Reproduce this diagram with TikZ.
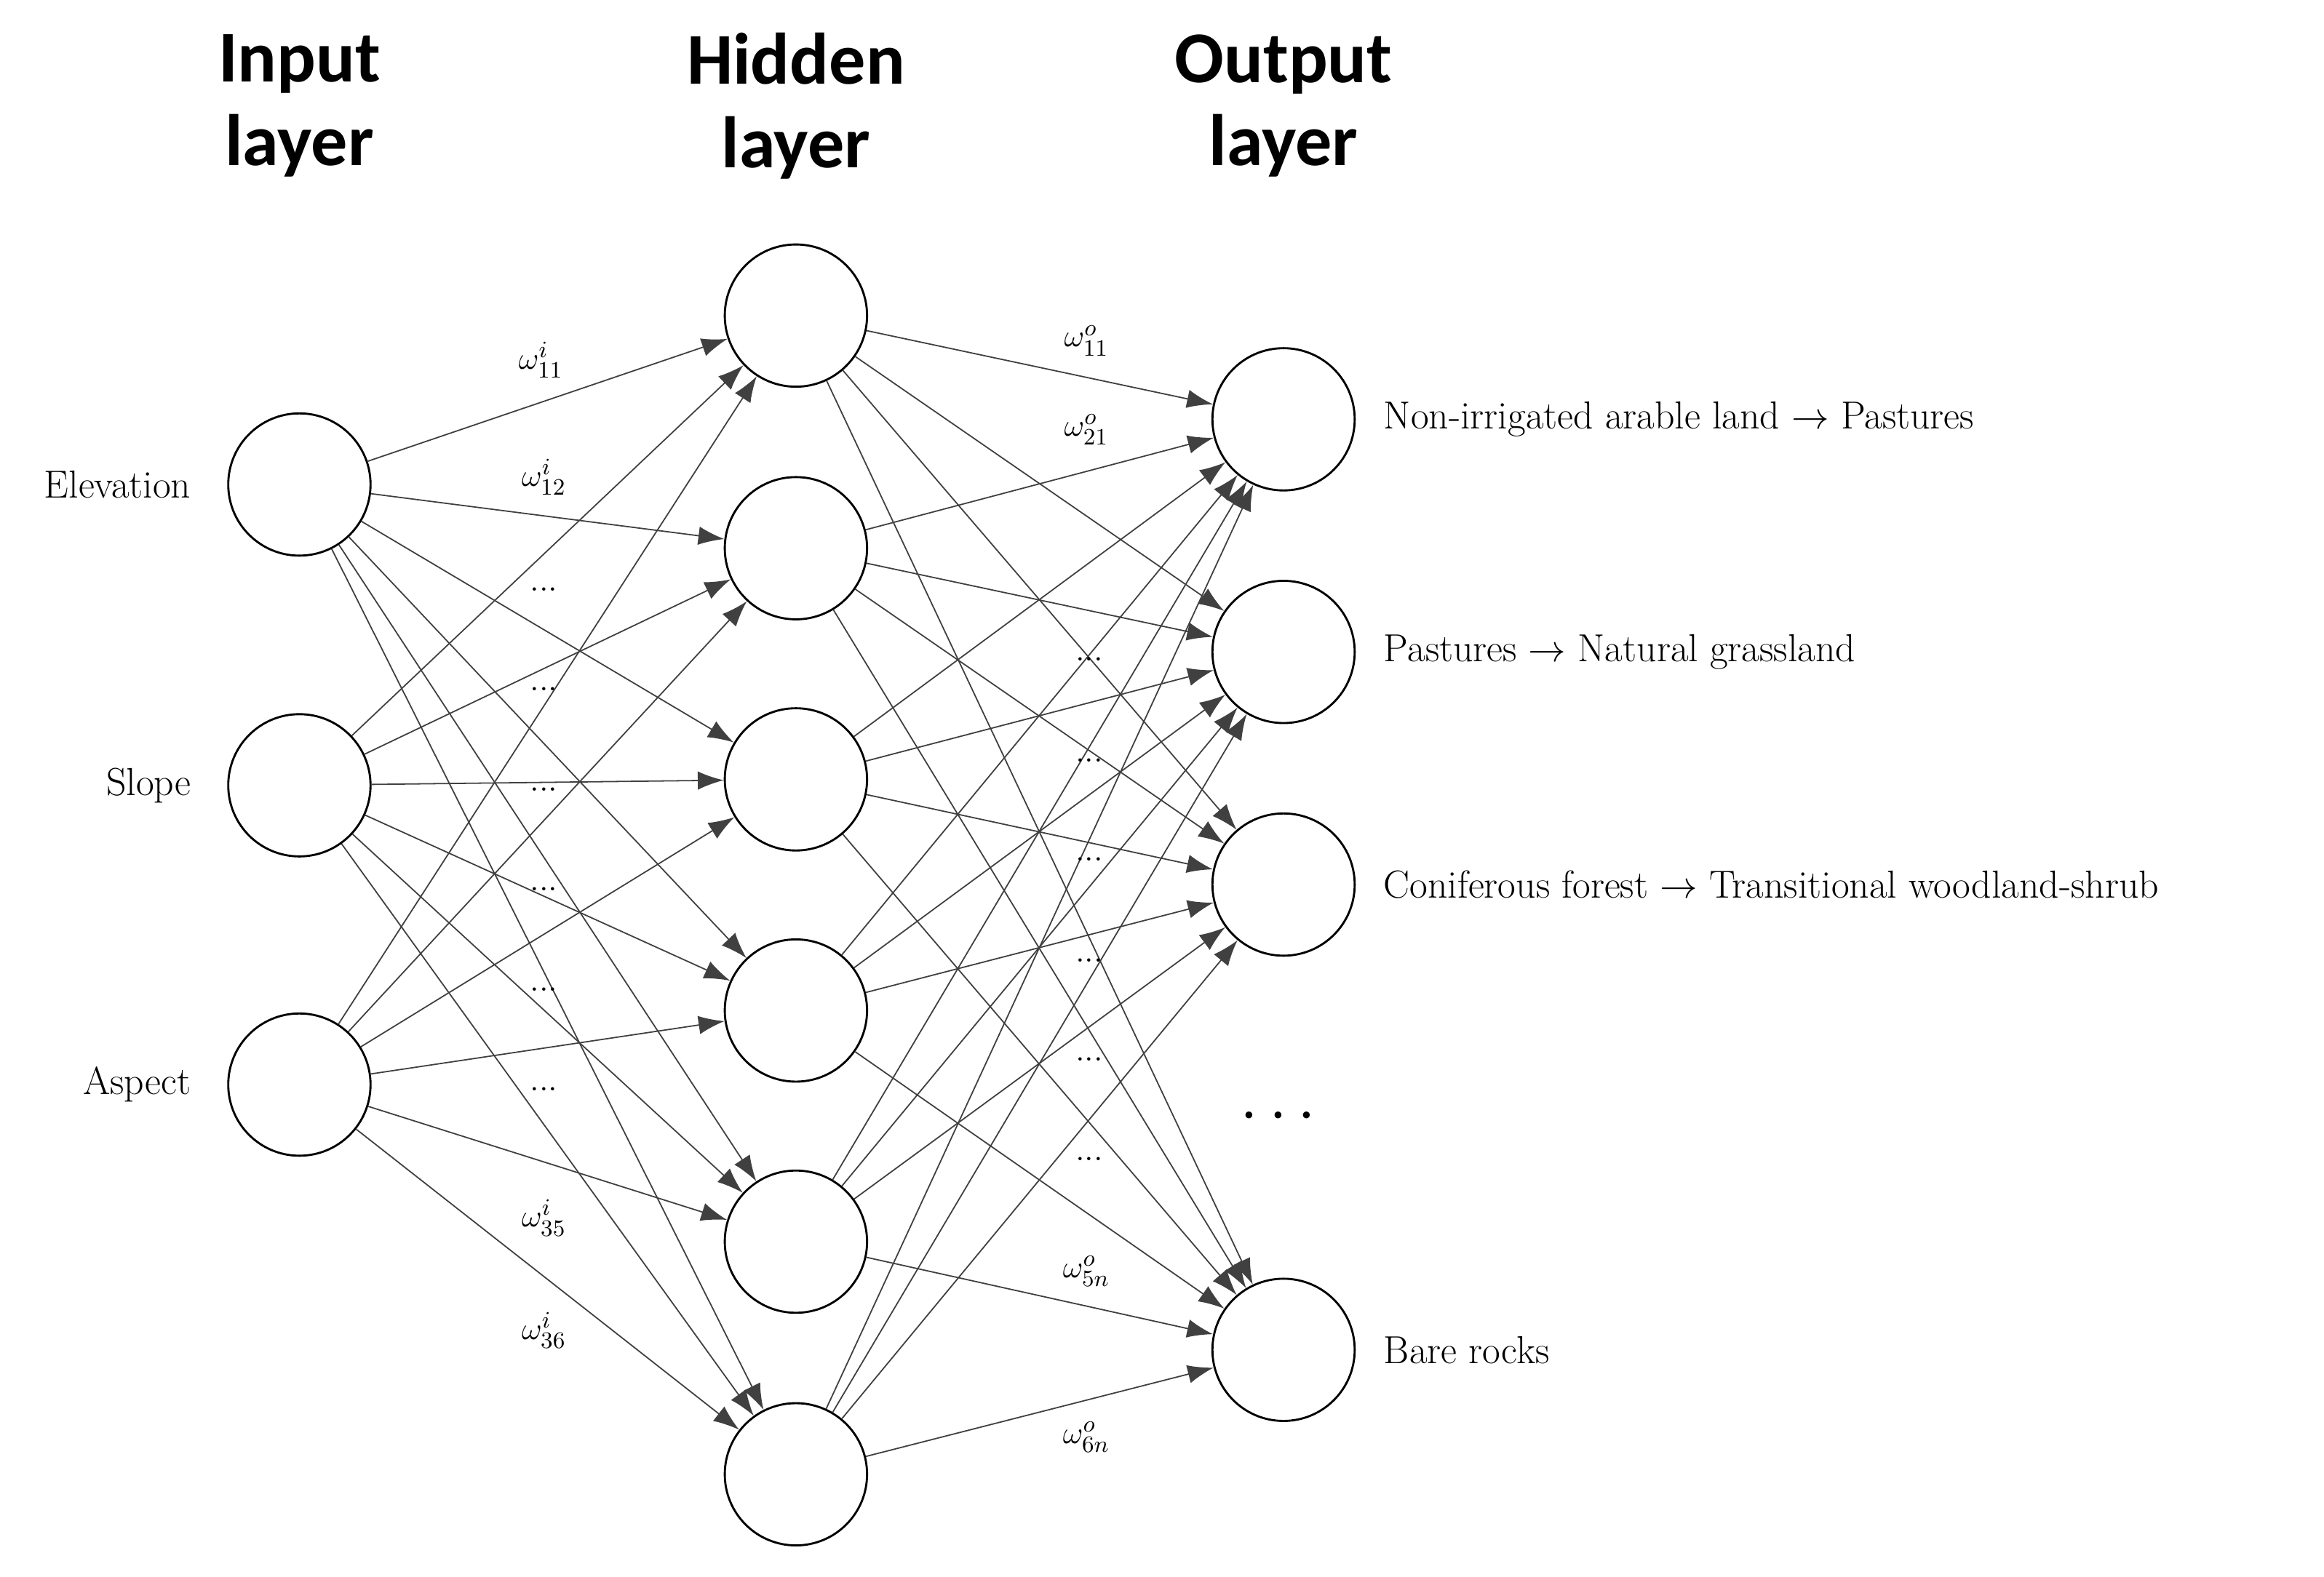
\documentclass[tikz,border=0pt]{standalone}
\usepackage{amsmath, amssymb}
\usepackage{fontspec}
\newfontfamily\titlefont{Carlito}
\usetikzlibrary{arrows.meta}

\begin{document}
\begin{tikzpicture}[x=1cm,y=1cm,
    neuron/.style={circle,draw,thick,minimum size=1.92cm,inner sep=0pt},
    link/.style={draw=black!75,line width=0.5pt,-{Latex[length=3.5mm,width=2.5mm]}},
    txt/.style={font=\fontsize{15}{17}\selectfont},
    wgt/.style={font=\fontsize{13}{15}\selectfont},
    ttl/.style={font=\titlefont\bfseries\fontsize{28}{32}\selectfont,align=center}]
    \useasboundingbox (0,0) rectangle (31.36,21.28);

    % Titles
    \node[ttl] at (4.04,19.85) {Input\\layer};
    \node[ttl] at (10.74,19.85) {Hidden\\layer};
    \node[ttl] at (17.32,19.85) {Output\\layer};

    % Input layer
    \node[neuron] (i1) at (4.04,14.74) {};
    \node[neuron] (i2) at (4.04,10.68) {};
    \node[neuron] (i3) at (4.04,6.64) {};
    \node[txt,left] at (2.7,14.74) {Elevation};
    \node[txt,left] at (2.7,10.68) {Slope};
    \node[txt,left] at (2.7,6.64) {Aspect};

    % Hidden layer
    \foreach \n/\y in {1/17.02,2/13.88,3/10.76,4/7.64,5/4.52,6/1.38}
        \node[neuron] (h\n) at (10.74,\y) {};

    % Output layer
    \node[neuron] (o1) at (17.32,15.62) {};
    \node[neuron] (o2) at (17.32,12.48) {};
    \node[neuron] (o3) at (17.32,9.34) {};
    \node[neuron] (o4) at (17.32,3.06) {};
    \node[txt,right] at (18.55,15.62) {Non-irrigated arable land $\rightarrow$ Pastures};
    \node[txt,right] at (18.55,12.48) {Pastures $\rightarrow$ Natural grassland};
    \node[txt,right] at (18.55,9.34) {Coniferous forest $\rightarrow$ Transitional woodland-shrub};
    \node[txt,right] at (18.55,3.06) {Bare rocks};
    \node[font=\Huge] (dots) at (17.32,6.2) {$\cdots$};

    % Connections
    \foreach \i in {1,2,3}
        \foreach \h in {1,...,6}
            \draw[link] (i\i) -- (h\h);
    \foreach \h in {1,...,6}
        \foreach \o in {1,...,4}
            \draw[link] (h\h) -- (o\o);

    % Input weights
    \node[wgt] at (7.3,16.42) {$\omega^{i}_{11}$};
    \node[wgt] at (7.34,14.84) {$\omega^{i}_{12}$};
    \foreach \y in {13.32,11.98,10.62,9.28,7.92,6.58}
        \node[wgt] at (7.34,\y) {...};
    \node[wgt] at (7.34,4.84) {$\omega^{i}_{35}$};
    \node[wgt] at (7.34,3.32) {$\omega^{i}_{36}$};

    % Output weights
    \node[wgt] at (14.66,16.68) {$\omega^{o}_{11}$};
    \node[wgt] at (14.66,15.48) {$\omega^{o}_{21}$};
    \foreach \y in {12.38,11.02,9.68,8.32,6.98,5.64}
        \node[wgt] at (14.7,\y) {...};
    \node[wgt] at (14.66,4.12) {$\omega^{o}_{5n}$};
    \node[wgt] at (14.66,1.88) {$\omega^{o}_{6n}$};

\end{tikzpicture}
\end{document}
